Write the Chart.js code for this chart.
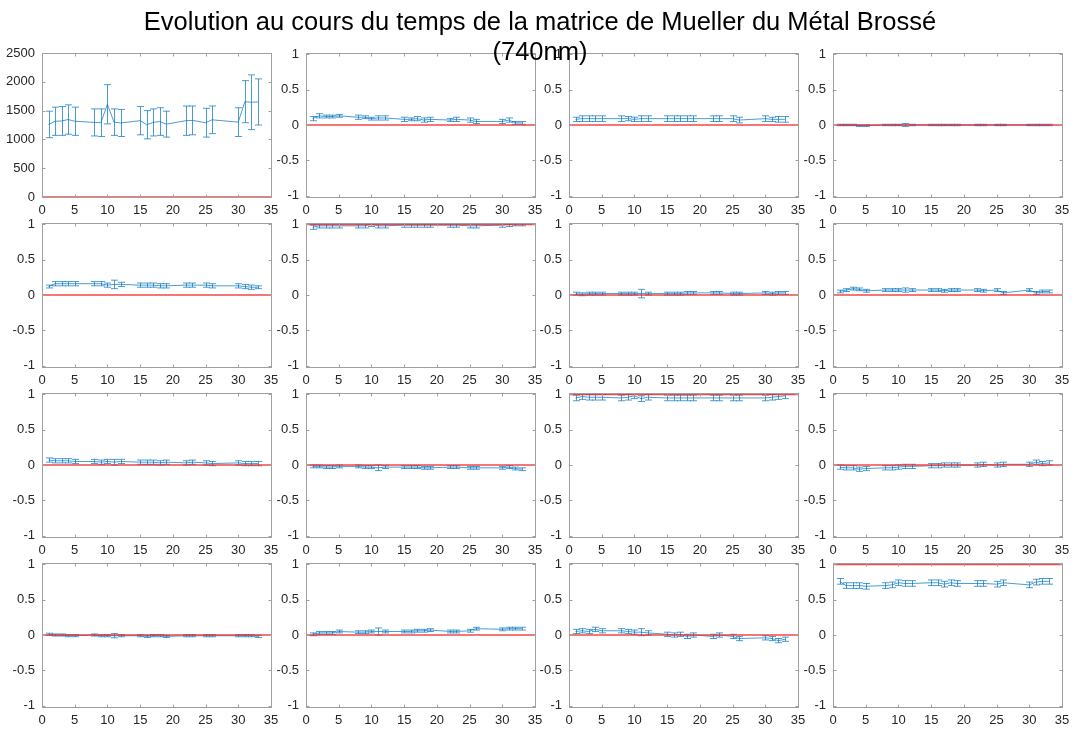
<!DOCTYPE html>
<html>
<head>
<meta charset="utf-8">
<script src="https://cdn.jsdelivr.net/npm/chart.js@4.4.0/dist/chart.umd.min.js"></script>
<style>
    body { margin: 0; background: #fff; width: 1075px; height: 729px; position: relative; overflow: hidden; }
    .titre {
        position: absolute; left: 0; top: 6px; width: 1080px; text-align: center;
        font-family: "Liberation Sans", Arial, sans-serif; font-size: 25.5px; line-height: 30px;
        color: #000; z-index: 10; pointer-events: none;
    }
    .cell { position: absolute; }
</style>
</head>
<body>
<div class="titre">Evolution au cours du temps de la matrice de Mueller du Métal Brossé<br>(740nm)</div>
<div id="grille"></div>
<script>
// jours de mesure
const jours = [1, 2, 3, 4, 5, 8, 9, 10, 11, 12, 15, 16, 17, 18, 19, 22, 23, 25, 26, 30, 31, 32, 33];
const xTicks = [0, 5, 10, 15, 20, 25, 30, 35];
const yTicksM11 = [0, 500, 1000, 1500, 2000, 2500];
const yTicks = [-1, -0.5, 0, 0.5, 1];
// ligne rouge de reference (matrice identite)
const refLevels = [0, 0, 0, 0, 0, 1, 0, 0, 0, 0, 1, 0, 0, 0, 0, 1];

const m11 = [1260, 1315, 1320, 1345, 1315, 1295, 1290, 1610, 1300, 1285, 1325, 1255, 1295, 1310, 1265, 1325, 1330, 1290, 1340, 1300, 1655, 1645, 1650];
const e11 = [230, 245, 250, 255, 245, 235, 240, 340, 230, 235, 245, 245, 235, 240, 225, 255, 250, 250, 240, 250, 365, 475, 400];
const m12 = [0.09, 0.13, 0.12, 0.12, 0.13, 0.11, 0.11, 0.09, 0.10, 0.10, 0.08, 0.08, 0.09, 0.07, 0.08, 0.07, 0.08, 0.07, 0.05, 0.05, 0.07, 0.03, 0.03];
const e12 = [0.03, 0.03, 0.02, 0.02, 0.02, 0.03, 0.02, 0.02, 0.03, 0.03, 0.03, 0.02, 0.03, 0.03, 0.03, 0.02, 0.03, 0.03, 0.03, 0.03, 0.03, 0.02, 0.02];
const m13 = [0.08, 0.09, 0.09, 0.09, 0.09, 0.09, 0.09, 0.08, 0.09, 0.09, 0.09, 0.09, 0.09, 0.09, 0.09, 0.09, 0.09, 0.09, 0.07, 0.09, 0.08, 0.08, 0.08];
const e13 = [0.03, 0.04, 0.04, 0.04, 0.04, 0.04, 0.03, 0.03, 0.04, 0.04, 0.04, 0.04, 0.04, 0.04, 0.04, 0.04, 0.04, 0.04, 0.04, 0.04, 0.03, 0.04, 0.04];
const m14 = [0.00, 0.00, 0.00, -0.01, -0.01, 0.00, 0.00, 0.00, 0.00, 0.00, 0.00, 0.00, 0.00, 0.00, 0.00, 0.00, 0.00, 0.00, 0.00, 0.00, 0.00, 0.00, 0.00];
const e14 = [0.01, 0.01, 0.01, 0.01, 0.01, 0.01, 0.01, 0.01, 0.02, 0.01, 0.01, 0.01, 0.01, 0.01, 0.01, 0.01, 0.01, 0.01, 0.01, 0.01, 0.01, 0.01, 0.01];
const m21 = [0.12, 0.16, 0.16, 0.16, 0.16, 0.16, 0.16, 0.14, 0.15, 0.15, 0.14, 0.14, 0.14, 0.13, 0.13, 0.14, 0.14, 0.14, 0.13, 0.13, 0.12, 0.11, 0.11];
const e21 = [0.02, 0.03, 0.03, 0.03, 0.03, 0.03, 0.03, 0.03, 0.06, 0.03, 0.03, 0.03, 0.03, 0.03, 0.03, 0.03, 0.03, 0.03, 0.03, 0.03, 0.03, 0.03, 0.02];
const m22 = [0.96, 0.98, 0.98, 0.98, 0.98, 0.98, 0.98, 1.00, 0.98, 0.98, 0.99, 0.99, 0.99, 0.99, 0.99, 0.99, 0.99, 0.98, 0.98, 0.99, 1.00, 1.01, 1.01];
const e22 = [0.03, 0.03, 0.03, 0.03, 0.03, 0.03, 0.03, 0.03, 0.03, 0.03, 0.03, 0.03, 0.03, 0.03, 0.03, 0.03, 0.03, 0.03, 0.03, 0.03, 0.03, 0.03, 0.03];
const m23 = [0.02, 0.01, 0.02, 0.02, 0.02, 0.02, 0.02, 0.02, 0.02, 0.02, 0.02, 0.02, 0.02, 0.03, 0.03, 0.03, 0.03, 0.02, 0.02, 0.03, 0.02, 0.03, 0.03];
const e23 = [0.02, 0.02, 0.02, 0.02, 0.02, 0.02, 0.02, 0.02, 0.06, 0.02, 0.02, 0.02, 0.02, 0.02, 0.02, 0.02, 0.02, 0.02, 0.02, 0.02, 0.02, 0.02, 0.02];
const m24 = [0.05, 0.07, 0.09, 0.08, 0.06, 0.07, 0.07, 0.07, 0.07, 0.07, 0.07, 0.07, 0.06, 0.07, 0.07, 0.07, 0.06, 0.07, 0.03, 0.07, 0.03, 0.05, 0.05];
const e24 = [0.02, 0.02, 0.02, 0.02, 0.02, 0.02, 0.02, 0.02, 0.03, 0.02, 0.02, 0.02, 0.02, 0.02, 0.02, 0.02, 0.02, 0.02, 0.02, 0.02, 0.02, 0.02, 0.02];
const m31 = [0.07, 0.06, 0.06, 0.06, 0.05, 0.05, 0.04, 0.05, 0.04, 0.05, 0.04, 0.04, 0.04, 0.03, 0.04, 0.03, 0.04, 0.03, 0.02, 0.03, 0.02, 0.02, 0.02];
const e31 = [0.03, 0.03, 0.03, 0.03, 0.03, 0.03, 0.03, 0.03, 0.04, 0.03, 0.03, 0.03, 0.03, 0.03, 0.03, 0.03, 0.03, 0.03, 0.03, 0.03, 0.03, 0.03, 0.03];
const m32 = [-0.02, -0.02, -0.03, -0.03, -0.02, -0.02, -0.03, -0.03, -0.04, -0.03, -0.03, -0.03, -0.03, -0.04, -0.04, -0.03, -0.03, -0.04, -0.04, -0.04, -0.03, -0.05, -0.06];
const e32 = [0.02, 0.02, 0.02, 0.02, 0.02, 0.02, 0.02, 0.02, 0.04, 0.02, 0.02, 0.02, 0.02, 0.02, 0.02, 0.02, 0.02, 0.02, 0.02, 0.02, 0.02, 0.02, 0.02];
const m33 = [0.95, 0.97, 0.96, 0.96, 0.96, 0.95, 0.96, 0.98, 0.94, 0.96, 0.95, 0.95, 0.95, 0.95, 0.95, 0.95, 0.95, 0.95, 0.95, 0.95, 0.96, 0.97, 0.98];
const e33 = [0.04, 0.04, 0.04, 0.04, 0.04, 0.04, 0.04, 0.04, 0.04, 0.04, 0.04, 0.04, 0.04, 0.04, 0.04, 0.04, 0.04, 0.04, 0.04, 0.04, 0.04, 0.04, 0.04];
const m34 = [-0.03, -0.04, -0.04, -0.06, -0.05, -0.04, -0.04, -0.03, -0.02, -0.02, -0.01, -0.01, 0.00, 0.00, 0.00, 0.00, 0.01, 0.00, 0.01, 0.01, 0.04, 0.02, 0.03];
const e34 = [0.03, 0.03, 0.03, 0.03, 0.03, 0.03, 0.03, 0.03, 0.03, 0.03, 0.03, 0.03, 0.03, 0.03, 0.03, 0.03, 0.03, 0.03, 0.03, 0.03, 0.03, 0.03, 0.03];
const m41 = [0.01, 0.00, 0.00, -0.01, -0.01, 0.00, -0.01, -0.01, -0.01, -0.01, -0.01, -0.02, -0.01, -0.01, -0.02, -0.01, -0.01, -0.01, -0.01, -0.01, -0.01, -0.01, -0.02];
const e41 = [0.015, 0.015, 0.015, 0.015, 0.015, 0.015, 0.015, 0.015, 0.03, 0.015, 0.015, 0.015, 0.015, 0.015, 0.015, 0.015, 0.015, 0.015, 0.015, 0.015, 0.015, 0.015, 0.015];
const m42 = [0.01, 0.03, 0.03, 0.03, 0.05, 0.04, 0.04, 0.05, 0.05, 0.05, 0.05, 0.05, 0.06, 0.06, 0.07, 0.05, 0.05, 0.06, 0.09, 0.08, 0.09, 0.09, 0.09];
const e42 = [0.02, 0.02, 0.02, 0.02, 0.02, 0.02, 0.02, 0.02, 0.05, 0.02, 0.02, 0.02, 0.02, 0.02, 0.02, 0.02, 0.02, 0.02, 0.02, 0.02, 0.02, 0.02, 0.02];
const m43 = [0.05, 0.06, 0.05, 0.08, 0.06, 0.06, 0.05, 0.04, 0.04, 0.03, 0.01, 0.00, 0.01, -0.02, 0.00, -0.02, 0.00, -0.02, -0.05, -0.04, -0.05, -0.08, -0.06];
const e43 = [0.03, 0.03, 0.03, 0.03, 0.03, 0.03, 0.03, 0.03, 0.05, 0.03, 0.03, 0.03, 0.03, 0.03, 0.03, 0.03, 0.03, 0.03, 0.03, 0.03, 0.03, 0.03, 0.03];
const m44 = [0.76, 0.70, 0.70, 0.70, 0.69, 0.70, 0.71, 0.74, 0.73, 0.73, 0.74, 0.74, 0.72, 0.74, 0.73, 0.73, 0.73, 0.72, 0.74, 0.71, 0.75, 0.76, 0.76];
const e44 = [0.04, 0.04, 0.04, 0.04, 0.04, 0.04, 0.04, 0.04, 0.04, 0.04, 0.04, 0.04, 0.04, 0.04, 0.04, 0.04, 0.04, 0.04, 0.04, 0.04, 0.04, 0.04, 0.04];

const valeurs = [m11, m12, m13, m14, m21, m22, m23, m24, m31, m32, m33, m34, m41, m42, m43, m44];
const erreurs = [e11, e12, e13, e14, e21, e22, e23, e24, e31, e32, e33, e34, e41, e42, e43, e44];

const colLeft = [42, 306, 569, 833];
const rowTop = [53, 223, 393, 563];
const plotW = 229;
const plotH = 144;
const padTop = 16;
const bleu = "rgba(0, 114, 189, 0.7)";
const gris = "#a0a0a0";
const texte = "#262626";

// barres d'erreur + cadre facon matlab
const matlabPlugin = {
    id: "matlab",
    beforeDatasetsDraw(chart) {
        const ctx = chart.ctx;
        const area = chart.chartArea;
        const x = chart.scales.x;
        const y = chart.scales.y;
        ctx.save();
        ctx.beginPath();
        ctx.rect(area.left, area.top, area.right - area.left, area.bottom - area.top);
        ctx.clip();
        ctx.strokeStyle = bleu;
        ctx.lineWidth = 1;
        chart.data.datasets.forEach((ds) => {
            if (!ds.erreurs) return;
            ds.data.forEach((p, k) => {
                const px = Math.round(x.getPixelForValue(p.x)) + 0.5;
                const lo = y.getPixelForValue(p.y - ds.erreurs[k]);
                const hi = y.getPixelForValue(p.y + ds.erreurs[k]);
                ctx.beginPath();
                ctx.moveTo(px, lo);
                ctx.lineTo(px, hi);
                ctx.moveTo(px - 3.5, lo);
                ctx.lineTo(px + 3.5, lo);
                ctx.moveTo(px - 3.5, hi);
                ctx.lineTo(px + 3.5, hi);
                ctx.stroke();
            });
        });
        ctx.restore();
    },
    afterDraw(chart) {
        const ctx = chart.ctx;
        const a = chart.chartArea;
        const l = Math.round(a.left) + 0.5, r = Math.round(a.right) + 0.5;
        const t = Math.round(a.top) + 0.5, b = Math.round(a.bottom) + 0.5;
        ctx.save();
        ctx.strokeStyle = gris;
        ctx.lineWidth = 1;
        ctx.strokeRect(l, t, r - l, b - t);
        ctx.beginPath();
        chart.scales.x.ticks.forEach((tk) => {
            const px = Math.round(chart.scales.x.getPixelForValue(tk.value)) + 0.5;
            ctx.moveTo(px, b); ctx.lineTo(px, b - 3);
            ctx.moveTo(px, t); ctx.lineTo(px, t + 3);
        });
        chart.scales.y.ticks.forEach((tk) => {
            const py = Math.round(chart.scales.y.getPixelForValue(tk.value)) + 0.5;
            ctx.moveTo(l, py); ctx.lineTo(l + 3, py);
            ctx.moveTo(r, py); ctx.lineTo(r - 3, py);
        });
        ctx.stroke();
        ctx.restore();
    },
};

const grille = document.getElementById("grille");

valeurs.forEach((serie, i) => {
    const r = Math.floor(i / 4);
    const c = i % 4;
    const div = document.createElement("div");
    div.className = "cell";
    div.style.left = (colLeft[c] - 42) + "px";
    div.style.top = (rowTop[r] - padTop) + "px";
    const canvas = document.createElement("canvas");
    canvas.width = plotW + 42 + 14;
    canvas.height = plotH + padTop + 26;
    div.appendChild(canvas);
    grille.appendChild(div);

    const premier = i === 0;
    const yt = premier ? yTicksM11 : yTicks;

    new Chart(canvas, {
        type: "line",
        data: {
            datasets: [
                {
                    data: [{ x: 0, y: refLevels[i] }, { x: 35, y: refLevels[i] }],
                    borderColor: "rgba(240, 40, 40, 0.85)",
                    borderWidth: 1.5,
                    pointRadius: 0,
                    order: 0,
                },
                {
                    data: jours.map((j, k) => ({ x: j, y: serie[k] })),
                    erreurs: erreurs[i],
                    borderColor: bleu,
                    borderWidth: 1,
                    pointRadius: 0,
                    tension: 0,
                    order: 1,
                },
            ],
        },
        options: {
            responsive: false,
            animation: false,
            layout: { padding: { top: padTop, right: 14, left: 0, bottom: 0 } },
            plugins: { legend: { display: false }, tooltip: { enabled: false } },
            scales: {
                x: {
                    type: "linear",
                    min: 0,
                    max: 35,
                    grid: { display: false, drawTicks: false },
                    border: { display: false },
                    afterBuildTicks: (ax) => { ax.ticks = xTicks.map((v) => ({ value: v })); },
                    afterFit: (ax) => { ax.height = 26; },
                    ticks: {
                        padding: 6,
                        color: texte,
                        autoSkip: false,
                        maxRotation: 0,
                        font: { family: "Liberation Sans", size: 13 },
                    },
                },
                y: {
                    type: "linear",
                    min: premier ? 0 : -1.02,
                    max: premier ? 2500 : 1.02,
                    grid: { display: false, drawTicks: false },
                    border: { display: false },
                    afterBuildTicks: (ax) => { ax.ticks = yt.map((v) => ({ value: v })); },
                    afterFit: (ax) => { ax.width = 42; },
                    ticks: {
                        padding: 7,
                        color: texte,
                        autoSkip: false,
                        font: { family: "Liberation Sans", size: 13 },
                        callback: (v) => String(v),
                    },
                },
            },
        },
        plugins: [matlabPlugin],
    });
});
</script>
</body>
</html>
